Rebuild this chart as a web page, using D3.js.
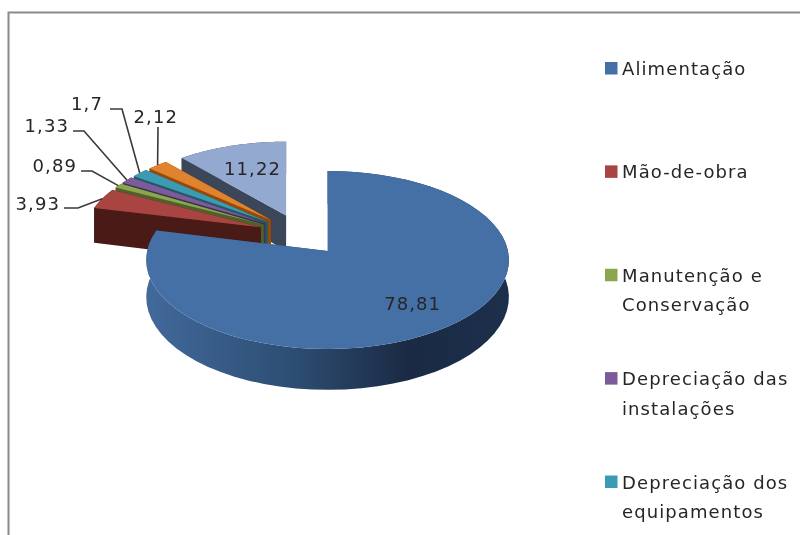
<!DOCTYPE html>
<html>
<head>
<meta charset="utf-8">
<script src="https://cdnjs.cloudflare.com/ajax/libs/d3/7.8.5/d3.min.js"></script>
<style>
  html, body { margin: 0; padding: 0; background: #fff; overflow: hidden; }
  svg { display: block; filter: blur(0.5px); }
  text { font-family: "DejaVu Sans", sans-serif; font-size: 18px; fill: #262626; letter-spacing: 1.1px; }
</style>
</head>
<body>
<div id="root"></div>
<script>
const values = [78.81, 3.93, 0.89, 1.33, 1.7, 2.12, 11.22]
const legendLabels = [
  ["Alimentação"],
  ["Mão-de-obra"],
  ["Manutenção e", "Conservação"],
  ["Depreciação das", "instalações"],
  ["Depreciação dos", "equipamentos"]
]
const topColors = ["#4570a6", "#a84543", "#8aa64e", "#7a5c9a", "#3b9bb3", "#e0832f", "#93a9cf"]
const wallColors = ["#2c4c70", "#4a1a16", "#4f6128", "#3f3151", "#215968", "#984807", "#3c4659"]

const width = 800
const height = 535

// 1. Fake 3d: plane (u,v) to screen, the near side looks bigger
const view = { cx: 301, cy: 234.5, bx: 177, ay: 84.8, k: 0.0991, depth: 36, explode: 0.243 }
const project = (apexU, u, v, down = false) => {
  const w = 1 + view.k * v
  return [
    view.cx + view.bx * (apexU + u / w),
    view.cy - view.ay * v / w + (down ? view.depth / w : 0)
  ]
}

const svg = d3.select("#root").append("svg")
  .attr("width", width)
  .attr("height", height)

const gradient = svg.append("defs").append("linearGradient")
  .attr("id", "blueSide")
  .attr("gradientUnits", "userSpaceOnUse")
  .attr("x1", 147).attr("x2", 509).attr("y1", 0).attr("y2", 0)
gradient.selectAll("stop")
  .data([[0, "#41699a"], [0.4, "#2d4e74"], [0.72, "#1a2a44"], [1, "#1c2f4b"]])
  .join("stop")
  .attr("offset", d => d[0])
  .attr("stop-color", d => d[1])

// frame, cut by the picture edge on the right and the bottom
svg.append("path")
  .attr("d", `M8.5,${height}V12.5H${width}`)
  .attr("fill", "none")
  .attr("stroke", "#8a8a8a")
  .attr("stroke-width", 2)

// 2. Slices
const slices = d3.pie().sort(null).startAngle(0).endAngle(2 * Math.PI)(values)
const line = d3.line()

const rimAngles = (a, b) => d3.range(0, 61).map(i => a + (b - a) * i / 60)
const geometry = slices.map((d, i) => {
  const mid = (d.startAngle + d.endAngle) / 2
  const ox = view.explode * Math.sin(mid)
  const oy = view.explode * Math.cos(mid)
  // every slice keeps its vertical through its own apex
  const at = (t, r, down) => project(ox, r * Math.sin(t), oy + r * Math.cos(t), down)
  return { d, i, mid, at }
})

// back to front: the big slice is nearest
const drawOrder = [6, 5, 4, 3, 2, 1, 0]
drawOrder.forEach(i => {
  const { d, at } = geometry[i]
  const g = svg.append("g")
  const rim = rimAngles(d.startAngle, d.endAngle)
  const wall = i === 0 ? "url(#blueSide)" : wallColors[i]

  const radialWall = t => line([at(t, 0, false), at(t, 1, false), at(t, 1, true), at(t, 0, true)]) + "Z"
  g.append("path").attr("d", radialWall(d.endAngle)).attr("fill", wallColors[i])
  g.append("path")
    .attr("d", line([...rim.map(t => at(t, 1, false)), ...rim.slice().reverse().map(t => at(t, 1, true))]) + "Z")
    .attr("fill", wall)
  g.append("path").attr("d", radialWall(d.startAngle)).attr("fill", wallColors[i])
  g.append("path")
    .attr("d", line([at(d.startAngle, 0, false), ...rim.map(t => at(t, 1, false))]) + "Z")
    .attr("fill", topColors[i])
})

// 3. Value labels
const fmt = v => String(v).replace(".", ",")

// inside labels sit on the slice: [slice index, radius, nudge x]
const insideLabels = [[0, 0.72, 0], [6, 0.65, 3]]
insideLabels.forEach(([i, r, nudge]) => {
  const { mid, at } = geometry[i]
  const [x, y] = at(mid, r, false)
  svg.append("text")
    .attr("x", x + nudge).attr("y", y + 6.5)
    .attr("text-anchor", "middle")
    .text(fmt(values[i]))
})

// outside labels: text end, baseline, and where the leader breaks
const outsideLabels = [
  { i: 1, x: 60, y: 210, path: [[64, 208], [78, 208]] },
  { i: 2, x: 77, y: 172, path: [[81, 171], [92, 171]] },
  { i: 3, x: 69, y: 132, path: [[73, 131], [84, 131]] },
  { i: 4, x: 103, y: 110, path: [[110, 109], [122, 109]] },
  { i: 5, x: 178, y: 123, path: [[158, 127]] }
]
outsideLabels.forEach(l => {
  const { mid, at } = geometry[l.i]
  svg.append("text")
    .attr("x", l.x).attr("y", l.y)
    .attr("text-anchor", "end")
    .text(fmt(values[l.i]))
  svg.append("path")
    .attr("d", line([...l.path, at(mid, 1.0, false)]))
    .attr("fill", "none")
    .attr("stroke", "#3a3a3a")
    .attr("stroke-width", 1.6)
})

// 4. Legend, the lower rows fall off the picture
const legendY = d3.scalePoint()
  .domain(d3.range(legendLabels.length))
  .range([68.5, 482])

const legend = svg.selectAll(".legend")
  .data(legendLabels)
  .join("g")
  .attr("class", "legend")
  .attr("transform", (d, i) => `translate(605,${legendY(i)})`)

legend.append("rect")
  .attr("x", 0).attr("y", -6.5)
  .attr("width", 12.5).attr("height", 12.5)
  .attr("fill", (d, i) => topColors[i])

legend.selectAll("text")
  .data(d => d)
  .join("text")
  .attr("x", 17)
  .attr("y", (d, i) => 6.5 + i * 29.5)
  .text(d => d)
</script>
</body>
</html>
